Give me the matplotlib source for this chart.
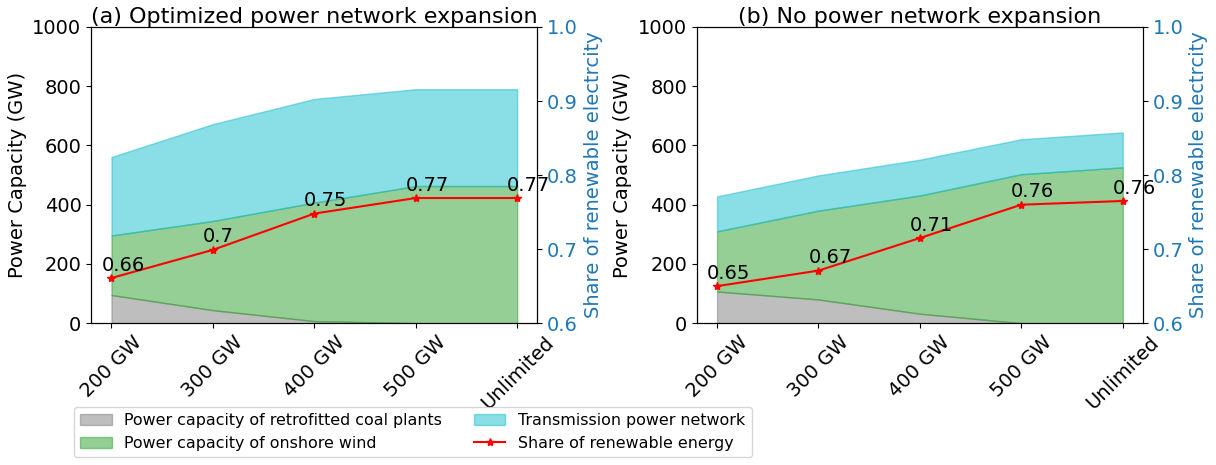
import numpy as np
import matplotlib
matplotlib.use("Agg")
import matplotlib.pyplot as plt

# scenario labels (power network limit)
scenarios = ["200 GW", "300 GW", "400 GW", "500 GW", "Unlimited"]

# (a) optimized power network expansion, GW
coal_a = [95, 44, 7, 0, 0]
wind_a = [201, 301, 400, 463, 463]
trans_a = [265, 327, 350, 327, 327]
share_a = [0.661, 0.699, 0.748, 0.769, 0.769]
share_lbl_a = ["0.66", "0.7", "0.75", "0.77", "0.77"]

# (b) no power network expansion, GW
coal_b = [107, 80, 32, 0, 0]
wind_b = [203, 300, 399, 503, 526]
trans_b = [118, 119, 121, 118, 118]
share_b = [0.650, 0.671, 0.715, 0.760, 0.765]
share_lbl_b = ["0.65", "0.67", "0.71", "0.76", "0.76"]

titles = ["(a) Optimized power network expansion", "(b) No power network expansion"]
fill_colors = ["tab:gray", "tab:green", "tab:cyan"]

fig = plt.figure(figsize=(12.16, 4.65), dpi=100)
axes = [fig.add_axes([0.075, 0.305, 0.367, 0.637]),
        fig.add_axes([0.573, 0.305, 0.367, 0.637])]

data = [(coal_a, wind_a, trans_a, share_a, share_lbl_a),
        (coal_b, wind_b, trans_b, share_b, share_lbl_b)]

x = np.arange(len(scenarios))
for ax, title, (coal, wind, trans, share, lbl) in zip(axes, titles, data):
    polys = ax.stackplot(x, coal, wind, trans,
                         colors=fill_colors, alpha=0.5,
                         labels=["Power capacity of retrofitted coal plants",
                                 "Power capacity of onshore wind",
                                 "Transmission power network"])
    # edges in the same colour so the layer borders show a bit darker
    for p, c in zip(polys, fill_colors):
        p.set_edgecolor(c)
        p.set_linewidth(1.0)
    ax.set_ylim(0, 1000)
    ax.set_xlim(-0.2, 4.2)
    ax.set_xticks(x)
    ax.set_xticklabels(scenarios, rotation=45, fontsize=14)
    ax.tick_params(axis="y", labelsize=14)
    ax.set_ylabel("Power Capacity (GW)", fontsize=14)
    ax.set_title(title, fontsize=16, pad=2)

    ax2 = ax.twinx()
    line, = ax2.plot(x, share, "r-*", label="Share of renewable energy")
    for i, (v, t) in enumerate(zip(share, lbl)):
        ax2.text(i - 0.1, v + 0.01, t, fontsize=14)
    ax2.set_ylim(0.6, 1.0)
    ax2.set_yticks([0.6, 0.7, 0.8, 0.9, 1.0])
    ax2.tick_params(axis="y", labelsize=14, labelcolor="tab:blue")
    ax2.set_ylabel("Share of renewable electrcity", fontsize=14, color="tab:blue")

handles = list(polys) + [line]
fig.legend(handles=handles, labels=[h.get_label() for h in handles],
           ncol=2, fontsize=11.4, loc="lower left",
           bbox_to_anchor=(0.054, 0.0))

fig.savefig("out.png", dpi=100)
